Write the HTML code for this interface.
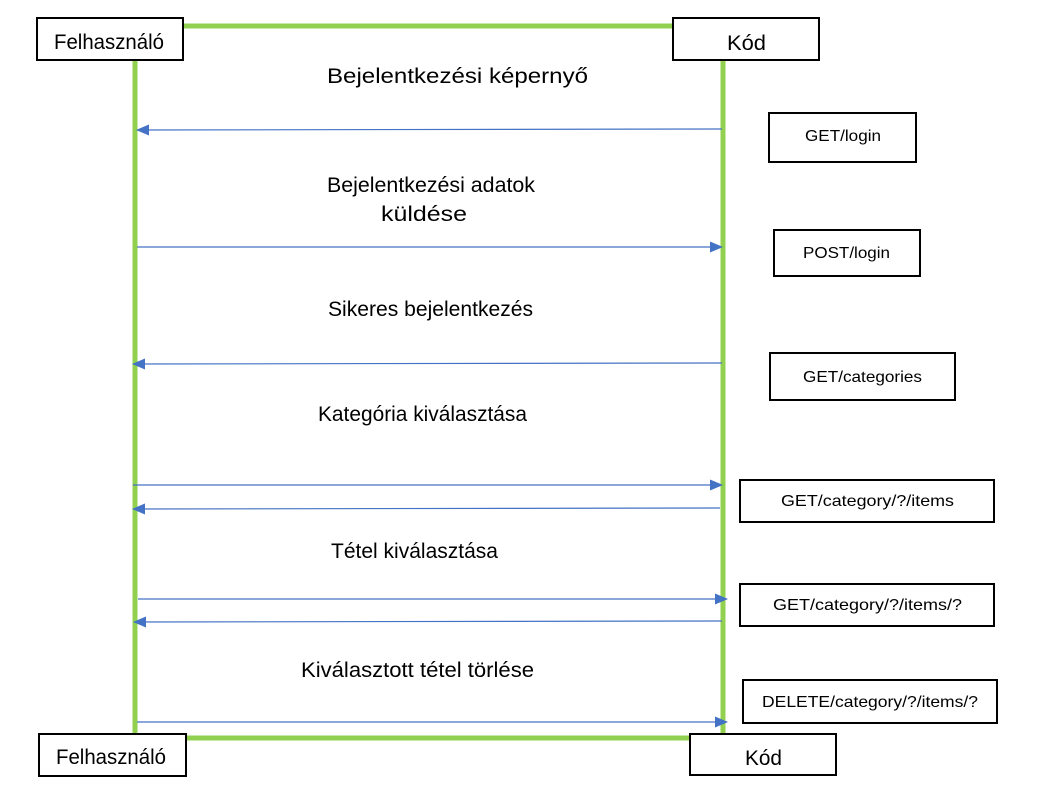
<!DOCTYPE html>
<html><head><meta charset="utf-8"><style>
body{margin:0;background:#fff;}
svg text{font-family:"Liberation Sans","DejaVu Sans",sans-serif;fill:#000;}
</style></head><body>
<svg width="1038" height="803" viewBox="0 0 1038 803" xmlns="http://www.w3.org/2000/svg">
<defs>
<marker id="a" markerWidth="13" markerHeight="11" refX="12" refY="5.5" orient="auto" markerUnits="userSpaceOnUse">
<path d="M0,0 L13,5.5 L0,11 z" fill="#4472c4"/></marker>
</defs>
<g stroke="#92d050" stroke-width="5" fill="none">
<line x1="183" y1="26" x2="675" y2="26"/>
<line x1="135" y1="60" x2="135" y2="740"/>
<line x1="723" y1="60" x2="723" y2="740"/>
<line x1="133" y1="738" x2="690" y2="738"/>
</g>
<g stroke="#4472c4" stroke-width="1.2" fill="none">
<line x1="722" y1="129" x2="137" y2="130" marker-end="url(#a)"/>
<line x1="137" y1="247" x2="722" y2="247" marker-end="url(#a)"/>
<line x1="722" y1="363" x2="133" y2="364" marker-end="url(#a)"/>
<line x1="133" y1="485" x2="722" y2="485" marker-end="url(#a)"/>
<line x1="720" y1="508" x2="133" y2="509" marker-end="url(#a)"/>
<line x1="138" y1="599" x2="727" y2="599" marker-end="url(#a)"/>
<line x1="722" y1="621" x2="134" y2="622" marker-end="url(#a)"/>
<line x1="137" y1="722" x2="727" y2="722" marker-end="url(#a)"/>
</g>
<g stroke="#000" stroke-width="2" fill="#fff">
<rect x="37" y="18" width="146" height="42"/>
<rect x="673" y="18" width="146" height="42"/>
<rect x="39" y="734" width="147" height="42"/>
<rect x="690" y="734" width="146" height="41"/>
<rect x="769" y="113" width="147" height="49"/>
<rect x="774" y="230" width="146" height="46"/>
<rect x="770" y="353" width="185" height="47"/>
<rect x="740" y="480" width="254" height="42"/>
<rect x="740" y="584" width="254" height="42"/>
<rect x="743" y="680" width="254" height="43"/>
</g>
<g font-size="21">
<text x="54" y="49" textLength="110" lengthAdjust="spacingAndGlyphs">Felhasználó</text>
<text x="727" y="50" textLength="39" lengthAdjust="spacingAndGlyphs">Kód</text>
<text x="56" y="764" textLength="110" lengthAdjust="spacingAndGlyphs">Felhasználó</text>
<text x="745" y="765" textLength="37" lengthAdjust="spacingAndGlyphs">Kód</text>
</g>
<g font-size="16">
<text x="805" y="141" textLength="76" lengthAdjust="spacingAndGlyphs">GET/login</text>
<text x="803" y="258" textLength="87" lengthAdjust="spacingAndGlyphs">POST/login</text>
<text x="803" y="382" textLength="119" lengthAdjust="spacingAndGlyphs">GET/categories</text>
<text x="781" y="506" textLength="173" lengthAdjust="spacingAndGlyphs">GET/category/?/items</text>
<text x="773" y="610" textLength="189" lengthAdjust="spacingAndGlyphs">GET/category/?/items/?</text>
<text x="762" y="707" textLength="216" lengthAdjust="spacingAndGlyphs">DELETE/category/?/items/?</text>
</g>
<g font-size="21">
<text x="327" y="83" textLength="261" lengthAdjust="spacingAndGlyphs">Bejelentkezési képernyő</text>
<text x="327" y="192" textLength="208" lengthAdjust="spacingAndGlyphs">Bejelentkezési adatok</text>
<text x="381" y="221" textLength="86" lengthAdjust="spacingAndGlyphs">küldése</text>
<text x="328" y="316" textLength="205" lengthAdjust="spacingAndGlyphs">Sikeres bejelentkezés</text>
<text x="318" y="421" textLength="209" lengthAdjust="spacingAndGlyphs">Kategória kiválasztása</text>
<text x="331" y="558" textLength="167" lengthAdjust="spacingAndGlyphs">Tétel kiválasztása</text>
<text x="301" y="677" textLength="233" lengthAdjust="spacingAndGlyphs">Kiválasztott tétel törlése</text>
</g>
</svg>
</body></html>
